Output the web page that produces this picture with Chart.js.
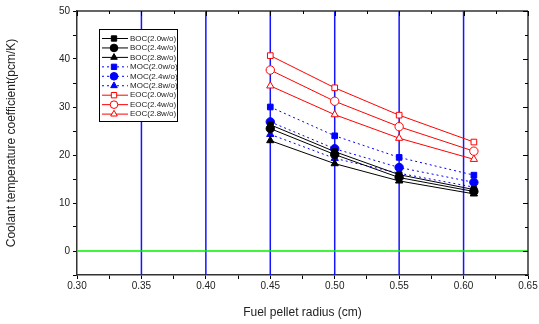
<!DOCTYPE html>
<html>
<head>
<meta charset="utf-8">
<script src="https://cdn.jsdelivr.net/npm/chart.js@4/dist/chart.umd.min.js"></script>
<style>
    html, body { margin: 0; padding: 0; background: #fff; }
    #wrap { width: 539px; height: 324px; }
</style>
</head>
<body>
<div id="wrap"><canvas id="coolantChart"></canvas></div>
<script>
// Fuel pellet radius (cm)
const radius = [0.45, 0.50, 0.55, 0.608];

// Coolant temperature coefficient (pcm/K)
const boc20 = [26.3, 20.7, 15.9, 12.8];
const boc24 = [25.5, 20.1, 15.3, 12.4];
const boc28 = [23.0, 18.2, 14.6, 11.9];
const moc20 = [30.0, 24.0, 19.5, 15.8];
const moc24 = [26.9, 21.3, 17.4, 14.3];
const moc28 = [24.3, 19.3, 16.2, 13.3];
const eoc20 = [40.7, 34.0, 28.3, 22.7];
const eoc24 = [37.7, 31.2, 25.9, 20.8];
const eoc28 = [34.4, 28.4, 23.5, 19.1];

const seriesNames = ['BOC(2.0w/o)', 'BOC(2.4w/o)', 'BOC(2.8w/o)',
                     'MOC(2.0w/o)', 'MOC(2.4w/o)', 'MOC(2.8w/o)',
                     'EOC(2.0w/o)', 'EOC(2.4w/o)', 'EOC(2.8w/o)'];
const seriesValues = [boc20, boc24, boc28, moc20, moc24, moc28, eoc20, eoc24, eoc28];

const xTickLabels = ['0.30', '0.35', '0.40', '0.45', '0.50', '0.55', '0.60', '0.65'];
const yTickLabels = ['0', '10', '20', '30', '40', '50'];
// blue vertical reference lines
const xGuides = [0.35, 0.40, 0.45, 0.50, 0.55, 0.60];

const FONT = "'Liberation Sans', Arial, sans-serif";
const shapes = ['rect', 'circle', 'triangle'];

function buildDatasets() {
    return seriesValues.map((vals, i) => {
        const group = Math.floor(i / 3);
        const color = group === 0 ? '#000000' : group === 1 ? '#0000ff' : '#ff0000';
        return {
            label: seriesNames[i],
            data: radius.map((r, k) => ({ x: r, y: vals[k] })),
            borderColor: color,
            borderWidth: 1,
            borderDash: group === 1 ? [2, 3] : [],
            pointStyle: shapes[i % 3],
            pointRadius: i % 3 === 0 ? 4 : 4.2,
            pointBorderWidth: 1,
            pointBackgroundColor: group === 2 ? '#ffffff' : color,
            pointBorderColor: color,
            tension: 0
        };
    });
}

// blue guide lines and the green zero line, under the data
const guidePlugin = {
    id: 'guides',
    beforeDatasetsDraw(chart) {
        const { ctx, chartArea: a, scales } = chart;
        ctx.save();
        ctx.lineWidth = 1.5;
        ctx.strokeStyle = 'rgb(20, 20, 255)';
        xGuides.forEach(v => {
            const px = scales.x.getPixelForValue(v);
            ctx.beginPath();
            ctx.moveTo(px, a.top); ctx.lineTo(px, a.bottom);
            ctx.stroke();
        });
        ctx.strokeStyle = 'rgb(0, 240, 0)';
        ctx.lineWidth = 1.5;
        ctx.beginPath();
        const py = scales.y.getPixelForValue(0);
        ctx.moveTo(a.left, py); ctx.lineTo(a.right, py);
        ctx.stroke();
        ctx.restore();
    }
};

// frame on top/right with inward ticks, plus the boxed legend
const framePlugin = {
    id: 'frame',
    afterDraw(chart) {
        const { ctx, chartArea: a, scales } = chart;
        ctx.save();
        ctx.strokeStyle = '#333';
        ctx.lineWidth = 1.5;
        ctx.beginPath();
        ctx.moveTo(a.left, a.top); ctx.lineTo(a.right, a.top);
        ctx.moveTo(a.right, a.top); ctx.lineTo(a.right, a.bottom);
        ctx.stroke();
        ctx.lineWidth = 1;
        ctx.strokeStyle = '#000';
        ctx.beginPath();
        for (let k = 0; k <= 14; k++) {
            const px = Math.round(scales.x.getPixelForValue(0.30 + k * 0.025)) + 0.5;
            ctx.moveTo(px, a.top); ctx.lineTo(px, a.top + (k % 2 === 0 ? 5 : 3));
        }
        for (let k = 0; k <= 11; k++) {
            const py = Math.round(scales.y.getPixelForValue(-5 + k * 5)) + 0.5;
            ctx.moveTo(a.right, py); ctx.lineTo(a.right - (k % 2 === 1 ? 5 : 3), py);
        }
        ctx.stroke();

        // legend box
        const lx = 99, ly = 29, lw = 78, lh = 92, row = 9.45;
        ctx.fillStyle = '#fff';
        ctx.fillRect(lx, ly, lw, lh);
        ctx.strokeStyle = '#000';
        ctx.lineWidth = 1;
        ctx.strokeRect(lx + 0.5, ly + 0.5, lw, lh);
        ctx.font = '8px ' + FONT;
        ctx.textBaseline = 'middle';
        chart.data.datasets.forEach((ds, i) => {
            const y = ly + 9.5 + i * row;
            ctx.strokeStyle = ds.borderColor;
            ctx.setLineDash(ds.borderDash);
            ctx.beginPath();
            ctx.moveTo(lx + 3, y); ctx.lineTo(lx + 29, y);
            ctx.stroke();
            ctx.setLineDash([]);
            ctx.fillStyle = ds.pointBackgroundColor;
            Chart.helpers.drawPoint(ctx, {
                pointStyle: ds.pointStyle, radius: 3.8, borderWidth: 1
            }, lx + 15, y);
            ctx.fillStyle = '#222';
            ctx.fillText(ds.label, lx + 31, y);
        });
        ctx.restore();
    }
};

function initializeChart() {
    const ctx = document.getElementById('coolantChart').getContext('2d');
    Chart.defaults.font.family = FONT;
    Chart.defaults.color = '#222';

    window.coolantChart = new Chart(ctx, {
        type: 'line',
        data: { datasets: buildDatasets() },
        options: {
            responsive: true,
            maintainAspectRatio: false,
            animation: false,
            layout: { padding: { top: 11, right: 11, left: 0, bottom: 0 } },
            plugins: {
                legend: { display: false },
                tooltip: { enabled: false }
            },
            scales: {
                x: {
                    type: 'linear',
                    min: 0.30,
                    max: 0.65,
                    afterFit: s => { s.height = 49; },
                    afterBuildTicks: s => {
                        s.ticks = [];
                        for (let k = 0; k <= 14; k++) s.ticks.push({ value: 0.30 + k * 0.025 });
                    },
                    ticks: {
                        font: { size: 10 },
                        maxRotation: 0,
                        autoSkip: false,
                        padding: 1,
                        callback: (v, idx) => idx % 2 === 0 ? xTickLabels[idx / 2] : ''
                    },
                    grid: {
                        drawOnChartArea: false,
                        tickColor: '#000',
                        tickLength: 4
                    },
                    border: { color: '#333', width: 1.5 },
                    title: {
                        display: true,
                        text: 'Fuel pellet radius (cm)',
                        font: { size: 12 },
                        padding: { top: 6 }
                    }
                },
                y: {
                    type: 'linear',
                    min: -5,
                    max: 50,
                    afterFit: s => { s.width = 77; },
                    ticks: {
                        stepSize: 5,
                        font: { size: 10 },
                        padding: 3,
                        callback: v => v % 10 === 0 ? yTickLabels[v / 10] : ''
                    },
                    grid: {
                        drawOnChartArea: false,
                        tickColor: '#000',
                        tickLength: 4
                    },
                    border: { color: '#333', width: 1.5 },
                    title: {
                        display: true,
                        text: 'Coolant temperature coefficient(pcm/K)',
                        font: { size: 12 },
                        padding: { top: 4, bottom: 12 }
                    }
                }
            }
        },
        plugins: [guidePlugin, framePlugin]
    });
}

document.addEventListener('DOMContentLoaded', initializeChart);
</script>
</body>
</html>
